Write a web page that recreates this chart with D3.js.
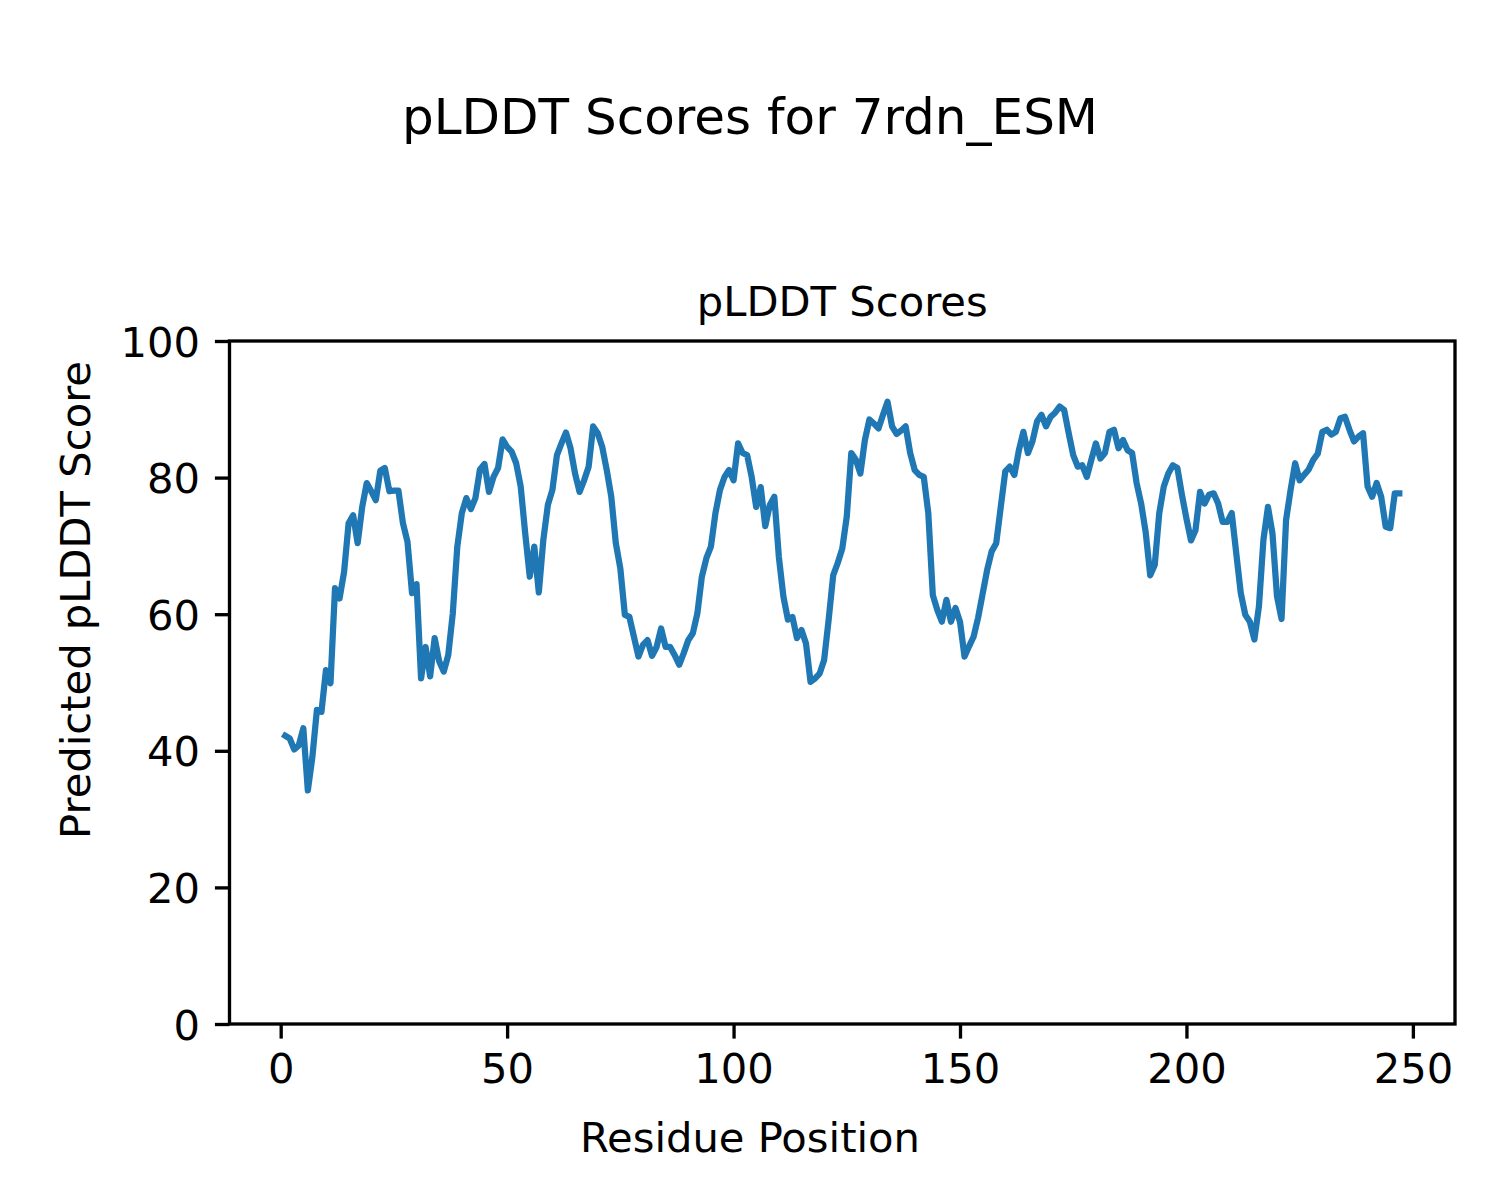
<!DOCTYPE html>
<html>
<head>
<meta charset="utf-8">
<script src="https://cdn.jsdelivr.net/npm/d3@7"></script>
<style>
  html, body { margin: 0; padding: 0; background: #fff; }
  svg { display: block; }
  text { font-family: "DejaVu Sans", sans-serif; fill: #000; }
</style>
</head>
<body>
<svg id="chart" width="1500" height="1200"></svg>
<script>
// pLDDT scores per residue (residues 1..247)
const scores = [
  42.2, 41.8, 40.2, 40.8, 43.3, 34.2, 39.1, 46.0, 45.7, 51.8,
  49.9, 63.8, 62.3, 66.2, 73.3, 74.5, 70.4, 75.7, 79.2, 78.0,
  76.7, 81.0, 81.4, 78.0, 78.1, 78.1, 73.3, 70.6, 63.1, 64.4,
  50.6, 55.2, 50.9, 56.5, 53.1, 51.6, 54.0, 60.1, 69.9, 74.8,
  77.0, 75.4, 77.0, 81.2, 82.0, 77.9, 80.1, 81.4, 85.6, 84.5,
  83.8, 82.1, 78.7, 71.8, 65.5, 69.9, 63.2, 70.9, 76.0, 78.2,
  83.3, 85.0, 86.6, 84.3, 80.6, 77.9, 79.6, 81.6, 87.5, 86.5,
  84.5, 81.1, 77.2, 70.4, 66.7, 59.9, 59.6, 56.7, 53.8, 55.5,
  56.2, 53.9, 55.2, 57.9, 55.2, 55.2, 54.0, 52.6, 54.3, 56.2,
  57.2, 60.1, 65.5, 68.2, 69.9, 74.8, 78.2, 80.1, 81.1, 79.6,
  85.0, 83.6, 83.3, 80.1, 75.7, 78.6, 72.9, 76.0, 77.2, 68.4,
  62.6, 59.2, 59.6, 56.5, 57.7, 55.7, 50.1, 50.6, 51.3, 53.3,
  59.2, 65.7, 67.5, 69.6, 74.3, 83.6, 82.6, 80.6, 85.5, 88.5,
  87.9, 87.2, 89.2, 91.1, 87.5, 86.4, 86.9, 87.5, 83.6, 81.1,
  80.4, 80.1, 74.8, 62.8, 60.6, 58.9, 62.1, 58.9, 60.9, 58.9,
  53.8, 55.3, 56.7, 59.5, 63.0, 66.5, 69.2, 70.4, 75.7, 80.9,
  81.6, 80.4, 84.0, 86.7, 83.6, 85.3, 88.2, 89.2, 87.5, 88.9,
  89.5, 90.4, 89.9, 86.5, 83.3, 81.6, 81.8, 80.1, 82.6, 85.0,
  82.8, 83.6, 86.7, 87.0, 84.3, 85.5, 84.0, 83.6, 79.2, 76.2,
  72.0, 65.7, 67.2, 74.8, 78.7, 80.6, 81.8, 81.4, 77.5, 74.0,
  70.8, 72.3, 77.9, 76.2, 77.5, 77.7, 76.2, 73.5, 73.5, 74.8,
  68.9, 63.1, 59.9, 58.9, 56.3, 61.1, 70.9, 75.7, 71.8, 62.6,
  59.3, 73.8, 78.2, 82.1, 79.6, 80.4, 81.2, 82.6, 83.5, 86.7,
  87.0, 86.3, 86.7, 88.7, 88.9, 87.0, 85.3, 86.0, 86.5, 78.7,
  77.2, 79.2, 77.2, 72.8, 72.6, 77.7, 77.7
];
const residues = scores.map((_, i) => i + 1);
const xTicks = [0, 50, 100, 150, 200, 250];
const yTicks = [0, 20, 40, 60, 80, 100];
const suptitle = "pLDDT Scores for 7rdn_ESM";
const axTitle = "pLDDT Scores";
const xLabel = "Residue Position";
const yLabel = "Predicted pLDDT Score";

const svg = d3.select("#chart");
const L = 229.5, R = 1455, T = 341, B = 1024;
const n = residues.length;
const pad = 0.05 * (residues[n - 1] - residues[0]);
const x = d3.scaleLinear().domain([residues[0] - pad, residues[n - 1] + pad]).range([L, R]);
const y = d3.scaleLinear().domain([0, 100]).range([B, T]);

const fs = 41.67;
const tickLen = 14.6;
const spineW = 3.33;

// line
const line = d3.line().x((d, i) => x(residues[i])).y(d => y(d));
svg.append("path")
  .datum(scores)
  .attr("d", line)
  .attr("fill", "none")
  .attr("stroke", "#1f77b4")
  .attr("stroke-width", 6.25)
  .attr("stroke-linejoin", "round")
  .attr("stroke-linecap", "square");

// x axis
const xAxis = d3.axisBottom(x).tickValues(xTicks).tickSize(tickLen).tickPadding(14.6).tickFormat(d3.format("d"));
const gx = svg.append("g").attr("transform", `translate(0,${B})`).call(xAxis);
gx.select(".domain").remove();
gx.selectAll(".tick line").attr("stroke", "#000").attr("stroke-width", spineW);
gx.selectAll(".tick text").attr("font-size", fs).attr("font-family", "DejaVu Sans")
  .attr("dy", null).attr("y", null)
  .attr("transform", null)
  .attr("y", 1083 - B);

// y axis
const yAxis = d3.axisLeft(y).tickValues(yTicks).tickSize(tickLen).tickPadding(14.6).tickFormat(d3.format("d"));
const gy = svg.append("g").attr("transform", `translate(${L},0)`).call(yAxis);
gy.select(".domain").remove();
gy.selectAll(".tick line").attr("stroke", "#000").attr("stroke-width", spineW);
gy.selectAll(".tick text").attr("font-size", fs).attr("font-family", "DejaVu Sans")
  .attr("dy", "0.36em").attr("x", -29.5);

// spines
svg.append("rect")
  .attr("x", L).attr("y", T).attr("width", R - L).attr("height", B - T)
  .attr("fill", "none").attr("stroke", "#000").attr("stroke-width", spineW)
  .attr("stroke-linejoin", "miter");

// texts
svg.append("text").attr("x", 750).attr("y", 134).attr("text-anchor", "middle")
  .attr("font-size", 50).text(suptitle);
svg.append("text").attr("x", (L + R) / 2).attr("y", 316).attr("text-anchor", "middle")
  .attr("font-size", fs).text(axTitle);
svg.append("text").attr("x", 750).attr("y", 1152).attr("text-anchor", "middle")
  .attr("font-size", fs).text(xLabel);
svg.append("text").attr("transform", "translate(90,600) rotate(-90)").attr("text-anchor", "middle")
  .attr("font-size", fs).text(yLabel);
</script>
</body>
</html>
